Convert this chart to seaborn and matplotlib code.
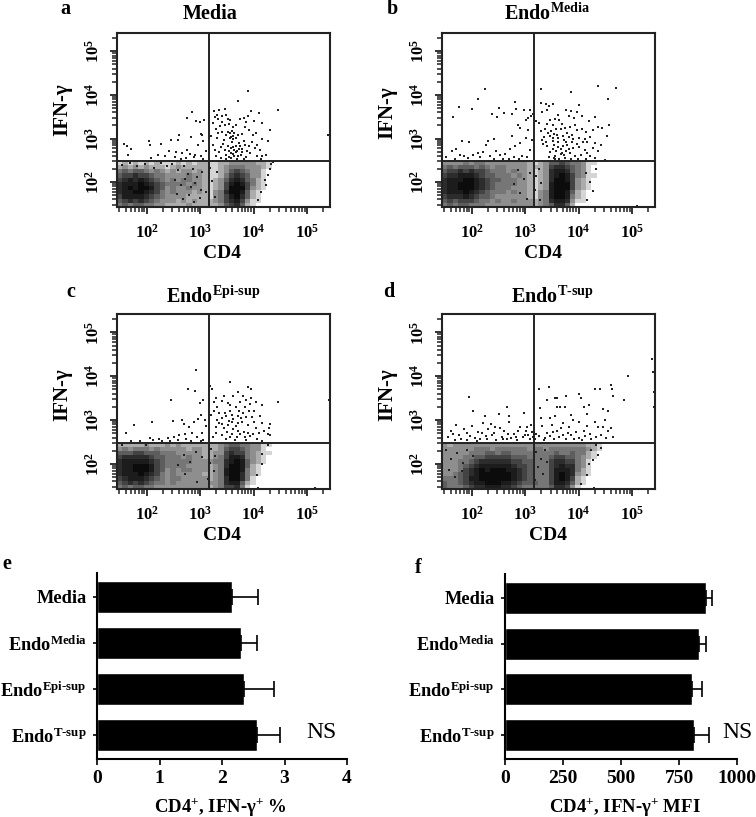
import matplotlib
matplotlib.use("Agg")
import matplotlib.pyplot as plt
import numpy as np
import pandas as pd
import seaborn as sns
from matplotlib.ticker import LogLocator, FuncFormatter, NullFormatter

sns.set_theme(style="white")
plt.rcParams['font.family'] = ['Liberation Serif', 'DejaVu Serif']
plt.rcParams['mathtext.fontset'] = 'custom'
plt.rcParams['mathtext.rm'] = 'Liberation Serif'
plt.rcParams['mathtext.bf'] = 'Liberation Serif:bold'
plt.rcParams['mathtext.it'] = 'Liberation Serif:italic'
plt.rcParams['xtick.color'] = 'black'
plt.rcParams['ytick.color'] = 'black'
plt.rcParams['text.color'] = 'black'

W, H = 756, 817

# how dark the dense part of each flow panel is, 0-9, read by eye
# rows run from the gate down to the axis, columns from log10 CD4 1.44 to 4.64
dens_a = ["1212 1212 1112 1212 2112 2333 3322 1000",
          "2323 2322 2123 2222 2112 3444 3332 1000",
          "4545 5434 3232 3323 2112 3565 4331 0000",
          "5667 6654 4333 3433 2112 4676 5331 0000",
          "6787 8765 4343 4433 2123 5787 5421 0000",
          "7888 9876 5444 4343 2123 6898 6421 0000",
          "7898 9986 5343 3433 2123 6999 6321 0000",
          "7889 9876 4343 3323 2134 7998 5210 0000",
          "6888 8765 4333 3222 2134 6897 5210 0000",
          "5676 7654 3332 3232 2234 6786 3110 0000",
          "4545 5443 3222 2322 2223 5675 2100 0000"]
dens_b = ["3333 4344 3333 3333 2123 5565 4431 1000",
          "4545 5545 4344 3333 2223 6776 5431 0000",
          "5667 6766 5444 3433 2123 7887 5431 0000",
          "6778 8876 5544 4343 2123 7898 6431 1000",
          "7888 9987 6554 4433 2123 7998 6321 0000",
          "7889 9987 6544 4433 2123 8999 6321 0000",
          "7889 9987 6544 4333 2123 8999 6321 0000",
          "7888 9876 5444 3433 2134 8998 5210 0000",
          "6777 8765 5433 3333 2134 8998 4210 0000",
          "5656 6654 4343 3433 3234 7887 3110 0000",
          "4545 5444 3333 3333 3234 5775 2000 0000"]
dens_c = ["2222 2322 2323 2222 2223 4554 4331 1000",
          "3434 4434 3333 3233 2223 5665 4331 0000",
          "5556 6555 4443 3333 2233 6766 4321 1000",
          "6777 7765 5444 3433 2234 6887 4321 0000",
          "7888 8876 5444 4433 3344 7898 5321 0000",
          "7889 9986 5444 4333 3234 7998 5210 0000",
          "7889 9986 5343 4433 3234 8998 4210 0000",
          "7888 9876 4343 3333 2234 8997 4210 0000",
          "6788 8765 4344 3333 3234 7997 4100 0000",
          "5676 7654 4343 3333 3334 7885 2100 0000",
          "4545 5443 3333 3333 3234 6674 1000 0000"]
dens_d = ["3233 3333 3333 3333 3333 3333 3332 2100",
          "3333 3344 4344 4444 3443 4444 4443 2100",
          "3333 3444 5545 5444 4444 4544 5442 1000",
          "3333 4455 6666 6555 4444 5665 5432 1000",
          "3334 4567 7777 7665 5444 6776 6431 0000",
          "3334 5678 8888 8766 5444 6787 7431 0000",
          "3334 6789 8999 8876 5444 6888 7421 0000",
          "3345 6789 9999 9876 5444 6898 7321 0000",
          "4445 6889 9999 9876 5444 6898 6210 0000",
          "5445 6788 9998 8765 5544 6887 5210 0000",
          "5444 5677 8887 7654 4444 5776 3100 0000"]

# single events, (log10 CD4, log10 IFN-g)
pts_a = [(1.58, 2.88), (1.62, 2.82), (1.71, 2.76), (1.64, 2.62), (2.04, 2.94), (2.06, 2.85), (2.26, 2.88), (2.46, 2.97),
         (2.61, 3.07), (2.59, 2.96), (2.82, 3.03), (3.04, 3.08), (2.75, 3.47), (2.85, 3.61), (2.92, 3.41), (3.0, 3.38),
         (3.07, 3.43), (3.01, 3.11), (2.41, 2.72), (2.54, 2.69), (2.66, 2.67), (2.76, 2.73), (2.81, 2.64), (2.91, 2.62),
         (3.02, 2.59), (3.11, 2.71), (2.21, 2.63), (2.34, 2.61), (2.52, 2.58), (2.07, 2.56), (2.63, 2.53), (2.74, 2.56),
         (2.88, 2.57), (3.06, 2.54), (2.96, 2.85), (3.05, 2.94), (3.26, 3.63), (3.31, 3.55), (3.36, 3.66), (3.46, 3.68),
         (3.41, 3.51), (3.52, 3.44), (3.24, 3.36), (3.29, 3.21), (3.37, 3.29), (3.47, 3.31), (3.56, 3.42), (3.61, 3.26),
         (3.66, 3.31), (3.71, 3.86), (3.9, 4.08), (3.95, 3.64), (3.89, 3.52), (4.01, 3.41), (4.1, 3.59), (4.16, 3.36),
         (4.46, 3.65), (4.3, 3.2), (4.15, 2.98), (4.26, 2.95), (4.04, 3.12), (3.84, 3.27), (3.79, 3.11), (3.71, 3.09),
         (3.62, 3.06), (3.56, 3.02), (3.49, 3.07), (3.44, 2.96), (3.31, 3.01), (3.24, 2.86), (3.39, 2.81), (3.51, 2.84),
         (3.59, 2.91), (3.66, 2.82), (3.72, 2.89), (3.81, 2.94), (3.91, 2.84), (4.02, 2.79), (4.11, 2.74), (3.54, 2.71),
         (3.61, 2.64), (3.64, 2.59), (3.69, 2.72), (3.76, 2.62), (3.79, 2.76), (3.86, 2.58), (3.94, 2.66), (4.06, 2.61),
         (4.16, 2.6), (4.24, 2.63), (3.29, 2.61), (3.38, 2.55), (3.48, 2.53), (3.58, 2.56), (3.68, 2.52), (3.82, 2.54),
         (3.52, 3.14), (3.56, 3.12), (3.6, 3.17), (3.64, 3.13), (3.58, 3.03), (3.62, 2.98), (3.67, 3.02), (3.57, 2.79),
         (3.63, 2.74), (3.67, 2.69), (3.72, 2.77), (3.74, 2.83), (3.58, 2.67), (3.62, 2.81), (3.49, 2.63), (3.46, 2.74),
         (3.53, 2.58), (3.71, 2.61), (3.78, 2.68), (3.83, 2.86), (3.87, 2.72), (3.96, 2.91), (4.07, 2.86), (4.13, 2.53),
         (3.33, 3.44), (3.41, 3.39), (3.48, 3.55), (3.54, 3.33), (3.74, 3.44), (3.81, 3.47), (3.86, 3.39), (3.92, 3.2),
         (3.98, 3.08), (3.27, 3.49), (3.34, 3.12), (3.41, 3.16), (3.28, 2.73), (3.36, 2.68), (3.43, 2.88), (3.21, 3.05),
         (5.4, 3.07), (4.12, 1.44), (4.31, 1.44), (4.62, 1.44), (4.73, 1.44), (4.91, 1.44), (5.28, 1.44),
         (4.33, 2.42), (4.3, 2.31), (4.27, 2.17), (4.22, 2.05), (4.24, 1.93), (4.14, 1.78), (4.09, 1.6), (4.36, 2.46),
         (2.47, 2.41), (2.58, 2.28), (2.69, 2.36), (2.77, 2.19), (2.86, 2.31), (2.94, 2.12), (3.03, 2.24), (2.52, 2.05),
         (2.63, 1.94), (2.72, 2.07), (2.83, 1.88), (2.91, 1.97), (3.02, 1.83), (2.56, 1.72), (2.67, 1.61), (2.78, 1.7),
         (2.89, 1.55), (3.0, 1.64), (3.11, 1.77), (3.22, 2.02), (3.27, 1.66), (3.19, 2.33), (3.31, 2.24), (1.53, 2.39),
         (1.68, 2.44), (1.82, 2.36), (1.97, 2.41), (2.13, 2.33), (2.27, 2.43), (2.38, 2.36)]

pts_b = [(2.24, 4.14), (2.11, 3.9), (1.75, 3.72), (1.64, 3.49), (2.0, 3.68), (2.5, 3.69), (2.37, 3.56), (2.47, 3.49),
         (2.61, 3.59), (2.81, 3.83), (2.83, 3.68), (2.97, 3.66), (2.75, 3.56), (1.81, 2.95), (1.94, 2.92), (1.62, 2.71),
         (1.71, 2.77), (2.31, 2.95), (2.41, 2.98), (2.26, 2.85), (2.46, 2.71), (2.21, 2.69), (2.12, 2.66), (2.03, 2.62),
         (1.86, 2.61), (2.62, 2.64), (2.71, 2.76), (2.81, 2.83), (2.91, 2.89), (3.01, 3.02), (2.76, 3.05), (2.86, 3.31),
         (2.91, 3.24), (3.01, 3.42), (3.05, 3.46), (3.11, 3.51), (3.14, 3.56), (3.09, 3.66), (3.2, 3.41), (3.05, 3.2),
         (3.12, 2.96), (3.09, 2.74), (2.58, 2.54), (2.79, 2.58), (2.94, 2.61), (3.3, 4.14), (3.85, 4.07), (4.37, 4.2),
         (4.7, 4.15), (4.55, 3.9), (3.3, 3.82), (3.38, 3.8), (3.45, 3.75), (3.41, 3.65), (3.51, 3.8), (3.31, 3.61),
         (3.26, 3.36), (3.41, 3.34), (3.52, 3.31), (3.56, 3.44), (3.62, 3.54), (3.76, 3.66), (3.86, 3.64), (3.96, 3.61),
         (3.91, 3.46), (4.01, 3.76), (4.06, 3.51), (4.2, 3.41), (4.31, 3.49), (4.36, 3.26), (4.44, 3.24), (4.56, 3.31),
         (4.26, 3.2), (4.21, 3.04), (4.16, 2.91), (4.31, 2.89), (4.41, 2.85), (4.36, 2.71), (4.54, 3.05), (4.06, 3.21),
         (3.96, 3.19), (3.84, 3.26), (3.74, 3.24), (3.66, 3.21), (3.54, 3.11), (3.46, 3.06), (3.36, 3.04), (3.31, 2.96),
         (3.41, 2.84), (3.51, 2.94), (3.61, 3.01), (3.71, 3.06), (3.81, 3.03), (3.89, 2.99), (4.01, 3.01), (4.11, 2.99),
         (3.52, 2.76), (3.62, 2.81), (3.71, 2.84), (3.79, 2.86), (3.9, 2.79), (4.01, 2.81), (4.11, 2.74), (3.56, 2.61),
         (3.66, 2.64), (3.76, 2.71), (3.84, 2.66), (3.94, 2.59), (4.04, 2.62), (4.21, 2.6), (4.31, 2.56), (4.49, 2.51),
         (3.49, 3.17), (3.57, 3.22), (3.69, 3.34), (3.79, 3.13), (3.87, 3.09), (3.93, 3.31), (3.72, 2.97), (3.62, 2.92),
         (3.54, 2.85), (3.47, 2.68), (3.58, 2.71), (3.67, 2.75), (3.73, 2.62), (3.81, 2.77), (3.87, 2.93), (3.97, 2.88),
         (4.08, 2.91), (4.16, 2.67), (4.26, 2.78), (3.44, 2.58), (3.53, 2.56), (3.63, 2.54), (3.74, 2.55), (3.86, 2.53),
         (3.98, 2.54), (4.13, 2.52), (3.33, 2.87), (3.39, 2.92), (3.43, 3.12), (3.52, 3.02), (3.59, 3.08), (3.77, 2.92),
         (3.68, 2.67), (3.56, 2.53), (3.29, 3.18), (3.37, 3.23), (3.47, 3.42), (3.64, 3.42), (3.82, 3.52), (4.13, 3.16),
         (4.68, 1.44), (4.59, 1.44), (4.85, 1.44), (5.1, 1.45), (4.15, 1.6), (4.22, 2.0), (4.27, 1.8), (4.14, 2.2), (4.33, 2.3),
         (1.52, 2.58), (1.68, 2.54), (1.78, 2.62), (1.93, 2.56), (2.16, 2.57), (2.34, 2.61), (2.42, 2.54), (2.52, 2.62),
         (2.7, 2.53), (2.88, 2.54), (3.04, 2.57), (3.26, 2.31), (3.21, 2.14), (3.29, 1.97), (3.18, 1.82), (3.27, 1.6),
         (3.08, 2.22), (2.98, 2.07), (2.87, 2.27), (2.79, 1.96), (2.91, 1.74), (3.03, 1.61)]

pts_c = [(2.92, 4.15), (2.77, 3.72), (2.9, 3.67), (2.45, 3.45), (1.75, 2.88), (1.6, 2.7), (2.1, 2.95), (2.48, 2.97),
         (2.66, 3.0), (2.7, 2.91), (2.78, 2.84), (2.88, 2.95), (2.95, 3.02), (3.02, 3.11), (3.0, 3.4), (3.05, 3.46),
         (2.85, 2.71), (2.71, 2.69), (2.61, 2.65), (2.51, 2.62), (2.4, 2.59), (2.22, 2.57), (2.06, 2.6), (2.94, 2.61),
         (3.04, 2.7), (3.1, 2.86), (3.09, 3.0), (3.05, 2.55), (3.18, 3.78), (3.22, 3.7), (3.55, 3.88), (3.9, 3.75),
         (3.95, 3.72), (3.7, 3.65), (3.8, 3.56), (3.61, 3.54), (3.45, 3.55), (3.3, 3.5), (3.25, 3.41), (3.31, 3.3),
         (3.4, 3.43), (3.51, 3.4), (3.56, 3.35), (3.66, 3.29), (3.75, 3.41), (3.85, 3.46), (3.95, 3.5), (4.05, 3.41),
         (4.16, 3.35), (4.45, 3.42), (5.42, 3.47), (4.01, 3.21), (4.11, 3.09), (3.91, 3.2), (3.8, 3.16), (3.71, 3.09),
         (3.6, 3.11), (3.49, 3.09), (3.41, 3.04), (3.31, 3.01), (3.21, 3.11), (3.29, 2.85), (3.4, 2.91), (3.52, 2.89),
         (3.59, 2.95), (3.71, 2.94), (3.79, 2.96), (3.9, 2.89), (4.01, 2.96), (4.15, 2.94), (4.3, 2.91), (4.2, 2.76),
         (4.26, 2.69), (4.1, 2.71), (3.99, 2.69), (3.9, 2.71), (3.81, 2.74), (3.71, 2.76), (3.6, 2.69), (3.5, 2.74),
         (3.41, 2.66), (3.3, 2.71), (3.24, 2.61), (3.49, 2.57), (3.65, 2.55), (3.86, 2.54), (4.06, 2.56), (4.16, 2.52),
         (3.56, 3.2), (3.62, 3.02), (3.67, 2.86), (3.54, 2.99), (3.46, 3.16), (3.76, 3.06), (3.86, 3.07), (3.96, 3.07),
         (3.62, 2.79), (3.56, 2.62), (3.69, 2.61), (3.75, 2.68), (3.83, 2.61), (3.94, 2.63), (4.04, 2.82), (3.45, 2.81),
         (3.36, 2.93), (3.26, 3.2), (3.36, 3.17), (3.84, 3.3), (3.72, 3.2), (4.31, 2.67), (4.28, 2.82), (3.93, 3.36),
         (4.09, 1.45), (4.31, 1.44), (4.48, 1.44), (4.69, 1.44), (5.15, 1.45), (4.27, 2.43), (4.16, 2.22), (4.15, 2.0), (4.07, 1.75),
         (1.54, 2.44), (1.71, 2.52), (1.87, 2.53), (1.99, 2.44), (2.12, 2.55), (2.28, 2.52), (2.44, 2.53), (2.59, 2.54),
         (2.73, 2.56), (2.83, 2.53), (3.01, 2.53), (3.21, 2.34), (3.28, 2.19), (3.19, 2.02), (3.26, 1.83), (3.14, 1.65),
         (3.03, 2.16), (2.92, 2.28), (2.81, 2.04), (2.69, 2.21), (2.58, 1.97), (2.71, 1.77), (2.94, 1.6)]

pts_d = [(1.95, 3.52), (2.02, 3.2), (2.25, 3.1), (2.5, 3.15), (2.65, 3.3), (2.7, 3.1), (2.97, 3.16), (1.71, 2.9),
         (1.6, 2.76), (1.55, 2.61), (1.75, 2.66), (1.86, 2.8), (1.91, 2.71), (2.01, 2.86), (2.11, 2.74), (2.2, 2.94),
         (2.31, 2.8), (2.35, 2.91), (2.41, 2.7), (2.52, 2.81), (2.61, 2.75), (2.7, 2.96), (2.79, 2.69), (2.9, 2.84),
         (3.01, 2.76), (3.11, 2.9), (3.06, 2.65), (2.95, 2.61), (2.74, 2.6), (2.56, 2.61), (2.26, 2.63), (2.05, 2.6),
         (1.9, 2.55), (1.69, 2.55), (2.15, 2.56), (2.46, 2.54), (2.66, 2.56), (2.84, 2.54), (3.15, 2.61), (3.25, 3.7),
         (3.27, 3.28), (3.45, 3.75), (3.4, 3.45), (3.55, 3.5), (3.65, 3.31), (3.59, 3.3), (3.75, 3.29), (3.76, 3.55),
         (3.6, 3.5), (4.0, 3.6), (4.05, 3.5), (4.1, 3.3), (4.15, 3.15), (4.2, 3.35), (4.3, 3.7), (4.4, 3.72),
         (4.6, 3.8), (4.62, 3.7), (4.65, 3.55), (4.85, 3.45), (4.92, 4.0), (5.38, 4.4), (5.4, 4.1), (5.42, 3.65),
         (5.42, 3.3), (4.45, 3.25), (4.55, 3.2), (4.5, 3.0), (4.31, 2.95), (4.36, 2.85), (4.46, 2.84), (4.55, 2.75),
         (4.6, 2.81), (4.65, 2.61), (4.51, 2.59), (4.41, 2.65), (4.21, 2.69), (4.1, 2.76), (4.01, 2.95), (3.9, 3.01),
         (3.81, 2.85), (3.71, 2.94), (3.6, 2.76), (3.5, 2.89), (3.41, 2.71), (3.31, 2.86), (3.21, 2.69), (3.46, 3.05),
         (3.29, 3.06), (3.56, 3.1), (3.85, 3.11), (3.7, 2.65), (3.86, 2.66), (4.0, 2.6), (3.54, 2.56), (3.35, 2.54),
         (1.65, 2.68), (1.8, 2.58), (1.96, 2.63), (2.09, 2.52), (2.18, 2.7), (2.29, 2.57), (2.37, 2.66), (2.44, 2.84),
         (2.59, 2.58), (2.68, 2.69), (2.82, 2.62), (2.87, 2.75), (2.99, 2.67), (3.08, 2.56), (3.04, 2.84), (3.13, 2.74),
         (3.18, 2.58), (3.25, 2.63), (3.37, 2.6), (3.46, 2.63), (3.52, 2.72), (3.63, 2.61), (3.66, 2.82), (3.77, 2.58),
         (3.8, 2.71), (3.92, 2.57), (3.95, 2.73), (4.06, 2.55), (4.11, 2.63), (4.16, 2.86), (4.23, 2.56), (4.33, 2.61),
         (4.29, 1.45), (4.49, 1.44), (4.61, 1.44), (4.75, 1.44), (4.9, 1.44), (4.05, 1.55), (4.15, 1.75), (4.2, 2.0), (4.36, 2.2),
         (1.52, 2.31), (1.61, 2.12), (1.73, 2.24), (1.84, 2.03), (1.57, 1.87), (1.69, 1.71), (1.81, 1.84), (1.91, 2.31),
         (2.03, 2.19), (3.21, 2.28), (3.29, 2.11), (3.37, 2.33), (3.24, 1.94), (3.33, 1.78), (3.41, 2.04), (3.19, 1.63),
         (4.24, 2.31), (4.32, 2.43), (4.41, 2.37), (4.27, 2.1)]

# bar panels
categories = ["Media", r"Endo$^{\mathbf{Media}}$", r"Endo$^{\mathbf{Epi\text{-}sup}}$", r"Endo$^{\mathbf{T\text{-}sup}}$"]
pct_values = [2.16, 2.31, 2.35, 2.56]
pct_errors = [0.42, 0.25, 0.485, 0.37]
mfi_values = [866, 837, 807, 813]
mfi_errors = [27, 29, 43, 66]

dens_cmap = sns.blend_palette(["white", "#a0a0a0", "#6a6a6a", "#303030", "#0c0c0c"], as_cmap=True)

fig = plt.figure(figsize=(W / 100, H / 100), dpi=100, facecolor="white")


def px_axes(x0, y0, x1, y1):
    return fig.add_axes([x0 / W, 1 - y1 / H, (x1 - x0) / W, (y1 - y0) / H])


def px_text(x, y, s, **kw):
    kw.setdefault("ha", "center")
    kw.setdefault("va", "center")
    fig.text(x / W, 1 - y / H, s, color="black", **kw)


def flow_panel(box, dens, pts):
    ax = px_axes(*box)
    rows = [r.replace(" ", "") for r in dens]
    cells = np.array([[int(c) for c in r] for r in rows[::-1]])
    lx = 1.49 + 0.1 * np.arange(cells.shape[1])
    ly = 1.478 + 0.0964 * np.arange(cells.shape[0])
    gx, gy = np.meshgrid(lx, ly)
    grid = pd.DataFrame({"x": 10 ** gx.ravel(), "y": 10 ** gy.ravel(), "w": cells.ravel()})
    sns.histplot(data=grid, x="x", y="y", weights="w", bins=(32, 11), binrange=((1.44, 4.64), (1.43, 2.49)),
                 log_scale=True, cmap=dens_cmap, pmax=1, ax=ax)
    df = pd.DataFrame(pts, columns=["lx", "ly"])
    df["x"] = 10 ** df["lx"]
    df["y"] = 10 ** df["ly"]
    sns.scatterplot(data=df, x="x", y="y", s=2.5, color="#222222", marker="s", linewidth=0, ax=ax)
    ax.set_xlim(10 ** 1.44, 10 ** 5.43)
    ax.set_ylim(10 ** 1.43, 10 ** 5.42)
    ax.axvline(10 ** 3.16, color="#222222", lw=1.4)
    ax.axhline(10 ** 2.49, color="#222222", lw=1.4)
    ax.set_xlabel("")
    ax.set_ylabel("")
    for s in ax.spines.values():
        s.set_visible(True)
        s.set_linewidth(1.5)
        s.set_color("#222222")
    for a in (ax.xaxis, ax.yaxis):
        a.set_major_locator(LogLocator(base=10, numticks=8))
        a.set_minor_locator(LogLocator(base=10, subs=np.arange(2, 10), numticks=8))
        a.set_major_formatter(FuncFormatter(lambda v, p: r"$\mathbf{10^{%d}}$" % round(np.log10(v))))
        a.set_minor_formatter(NullFormatter())
    ax.tick_params(which="major", bottom=True, left=True, length=5, width=1.3, labelsize=12, color="#222222")
    ax.tick_params(which="minor", bottom=True, left=True, length=3.5, width=1.1, color="#222222")
    ax.tick_params(axis="x", which="major", pad=7)
    ax.tick_params(axis="y", which="major", pad=5)
    plt.setp(ax.get_yticklabels(), rotation=90, va="center")
    return ax


flow_panel((117, 33, 330, 207), dens_a, pts_a)
flow_panel((442, 33, 655, 207), dens_b, pts_b)
flow_panel((117, 314, 330, 489), dens_c, pts_c)
flow_panel((442, 314, 655, 489), dens_d, pts_d)


def bar_panel(box, values, errors, xmax, xticks):
    ax = px_axes(*box)
    df = pd.DataFrame({"cat": categories, "val": values})
    sns.barplot(data=df, y="cat", x="val", color="black", saturation=1, width=0.7, ax=ax)
    ax.errorbar(values, range(len(values)), xerr=[[0] * len(errors), errors], fmt="none",
                ecolor="black", elinewidth=1.2, capsize=5.5, capthick=1.2)
    ax.set_xlim(0, xmax)
    ax.set_ylim(3.52, -0.52)
    ax.set_xticks(xticks)
    ax.set_xlabel("")
    ax.set_ylabel("")
    sns.despine(ax=ax)
    ax.spines["left"].set_linewidth(1.5)
    ax.spines["bottom"].set_linewidth(1.5)
    ax.spines["left"].set_color("black")
    ax.spines["bottom"].set_color("black")
    ax.tick_params(axis="x", bottom=True, length=4, width=1.2, labelsize=14, pad=4)
    ax.tick_params(axis="y", left=True, length=3, width=1.2, labelsize=13.2, pad=4.5)
    plt.setp(ax.get_xticklabels(), fontweight="bold")
    plt.setp(ax.get_yticklabels(), fontweight="bold")
    return ax


bar_panel((97, 573, 347, 759), pct_values, pct_errors, 4, [0, 1, 2, 3, 4])
bar_panel((505, 574, 737, 759), mfi_values, mfi_errors, 1000, [0, 250, 500, 750, 1000])

# panel letters
for x, y, s in [(65, 9, "a"), (392, 9, "b"), (71, 292, "c"), (389, 292, "d"), (7, 564, "e"), (418, 568, "f")]:
    px_text(x, y, s, fontsize=14.5, fontweight="bold")

# flow titles
px_text(210, 14, "Media", fontsize=14.5, fontweight="bold")
px_text(547, 14, r"Endo$^{\mathbf{Media}}$", fontsize=14.5, fontweight="bold")
px_text(213, 297, r"Endo$^{\mathbf{Epi\text{-}sup}}$", fontsize=14.5, fontweight="bold")
px_text(552, 297, r"Endo$^{\mathbf{T\text{-}sup}}$", fontsize=14.5, fontweight="bold")

# flow axis names
for x, y in [(222, 253), (543, 253), (222, 536), (548, 535)]:
    px_text(x, y, "CD4", fontsize=14, fontweight="bold")
for x, y in [(62, 110), (387, 113), (62, 395), (387, 395)]:
    px_text(x, y, "IFN-γ", fontsize=15, rotation=90, fontweight="bold")

# bar annotations
px_text(220, 807, r"CD4$^{\mathbf{+}}$, IFN-γ$^{\mathbf{+}}$ %", fontsize=13.5, fontweight="bold")
px_text(625, 807, r"CD4$^{\mathbf{+}}$, IFN-γ$^{\mathbf{+}}$ MFI", fontsize=13.5, fontweight="bold")
px_text(321, 732, "NS", fontsize=17)
px_text(737, 732, "NS", fontsize=17)

fig.savefig("out.png", dpi=100)
